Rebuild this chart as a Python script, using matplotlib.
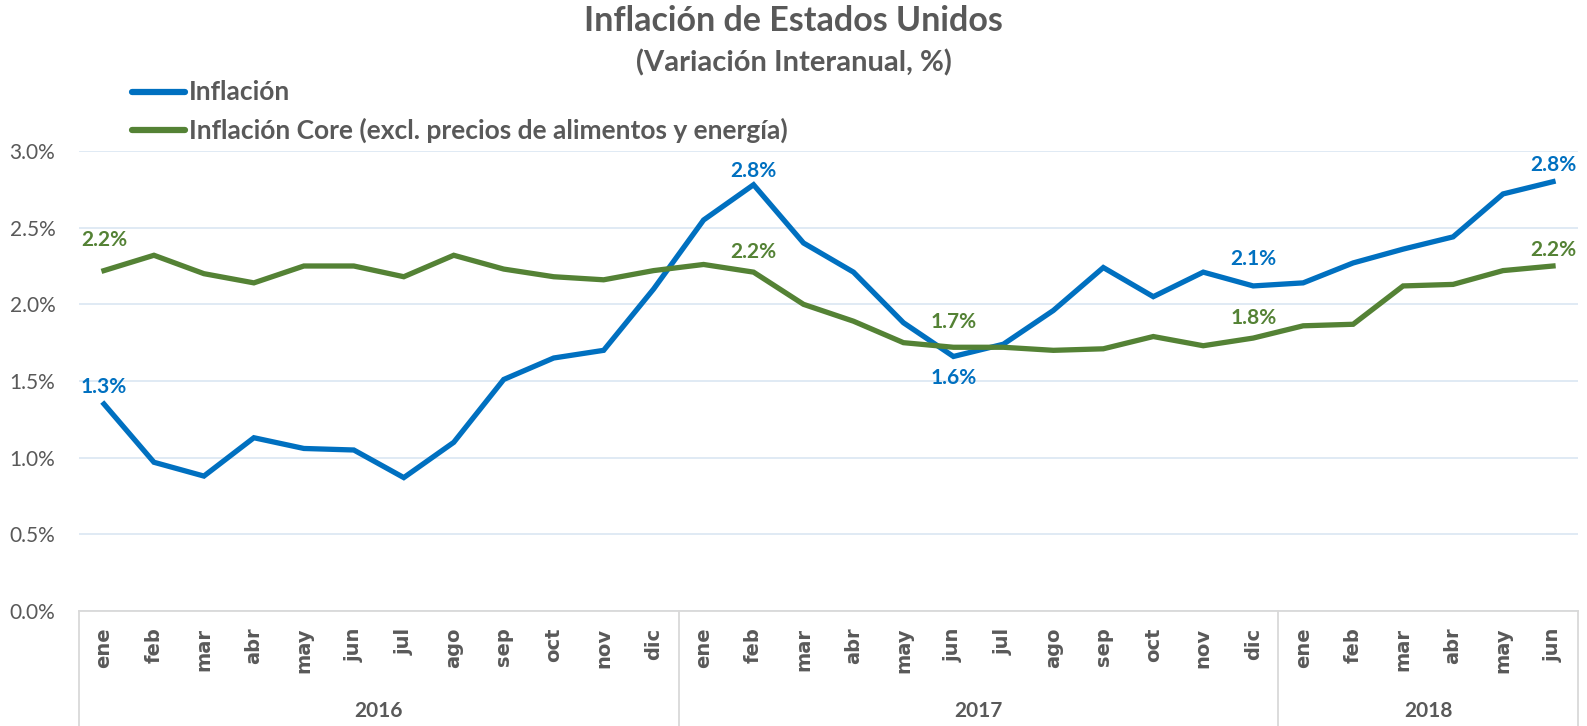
import matplotlib
matplotlib.use("Agg")
import matplotlib.pyplot as plt
from matplotlib.lines import Line2D
import matplotlib.transforms as mtransforms

plt.rcParams['font.family'] = ['Lato', 'DejaVu Sans']

years = ["2016", "2017", "2018"]
months_per_year = [12, 12, 6]
month_names = ["ene", "feb", "mar", "abr", "may", "jun", "jul", "ago", "sep", "oct", "nov", "dic"]
month_labels = (month_names + month_names + month_names[:6])

inflacion = [1.35, 0.97, 0.88, 1.13, 1.06, 1.05, 0.87, 1.10, 1.51, 1.65, 1.70, 2.10,
             2.55, 2.78, 2.40, 2.21, 1.88, 1.66, 1.74, 1.96, 2.24, 2.05, 2.21, 2.12,
             2.14, 2.27, 2.36, 2.44, 2.72, 2.80]
core = [2.22, 2.32, 2.20, 2.14, 2.25, 2.25, 2.18, 2.32, 2.23, 2.18, 2.16, 2.22,
        2.26, 2.21, 2.00, 1.89, 1.75, 1.72, 1.72, 1.70, 1.71, 1.79, 1.73, 1.78,
        1.86, 1.87, 2.12, 2.13, 2.22, 2.25]

# labelled points: (index, text)
labels_inf = [(0, "1.3%"), (13, "2.8%"), (17, "1.6%"), (23, "2.1%"), (29, "2.8%")]
labels_core = [(0, "2.2%"), (13, "2.2%"), (17, "1.7%"), (23, "1.8%"), (29, "2.2%")]

series_names = ["Inflación", "Inflación Core (excl. precios de alimentos y energía)"]

BLUE = "#0070C0"
GREEN = "#548235"
GRAY = "#595959"
GRID = "#DDE8F3"
AXIS = "#D9D9D9"

W, H = 1587, 726
fig = plt.figure(figsize=(W / 100, H / 100), dpi=100)
ax = fig.add_axes([79 / W, (H - 611) / H, (1578 - 79) / W, (611 - 151) / H])

x = list(range(len(inflacion)))
l1, = ax.plot(x, inflacion, color=BLUE, lw=3.8, solid_joinstyle='miter', label=series_names[0])
l2, = ax.plot(x, core, color=GREEN, lw=3.8, solid_joinstyle='miter', label=series_names[1])

ax.set_xlim(-0.5, len(x) - 0.5)
ax.set_ylim(0, 3.0)
yt = [0, 0.5, 1.0, 1.5, 2.0, 2.5, 3.0]
ax.set_yticks(yt)
ax.set_yticklabels([f"{v:.1f}%" for v in yt])
ax.tick_params(axis='y', length=0, labelsize=15, labelcolor=GRAY, pad=50)
for t in ax.get_yticklabels():
    t.set_horizontalalignment('left')

ax.set_xticks(x)
ax.set_xticklabels(month_labels, rotation=90, fontweight='bold', fontsize=14, color=GRAY,
                   family='DejaVu Sans')
ax.tick_params(axis='x', length=0, pad=12)

ax.grid(axis='y', color=GRID, lw=1.3)
ax.set_axisbelow(True)
for s in ['left', 'right', 'top']:
    ax.spines[s].set_visible(False)
ax.spines['bottom'].set_color(AXIS)
ax.spines['bottom'].set_linewidth(1.3)

# year separators and labels
trans = mtransforms.blended_transform_factory(ax.transData, ax.transAxes)
ybot = -(H - 611) / (611 - 151)
bounds = [-0.5]
acc = -0.5
for n in months_per_year:
    acc += n
    bounds.append(acc)
for b in bounds:
    ax.add_line(Line2D([b, b], [0, ybot], transform=trans, color=AXIS, lw=1.3, clip_on=False))
yl = -(711 - 611) / (611 - 151)
for i, yr in enumerate(years):
    cx = (bounds[i] + bounds[i + 1]) / 2
    ax.text(cx, yl, yr, transform=trans, ha='center', va='center', fontsize=15,
            fontweight='bold', color=GRAY)

# data labels
def lab(series, items, color, offsets):
    for (i, txt), dy in zip(items, offsets):
        ax.annotate(txt, (i, series[i]), xytext=(0, dy), textcoords='offset pixels',
                    ha='center', va='center', fontsize=15, fontweight='bold', color=color)

lab(inflacion, labels_inf, BLUE, [17, 14, -22, 27, 17])
lab(core, labels_core, GREEN, [31, 20, 25, 20, 16])

# title
fig.text(0.5, 1 - 21 / H, "Inflación de Estados Unidos", ha='center', va='center',
         fontsize=24.5, fontweight='bold', color=GRAY)
fig.text(0.5, 1 - 63 / H, "(Variación Interanual, %)", ha='center', va='center',
         fontsize=21, fontweight='bold', color=GRAY)

# legend (drawn manually to match placement)
for k, (line, name) in enumerate(zip([l1, l2], series_names)):
    yc = 1 - (92 + 38 * k) / H
    fig.add_artist(Line2D([132 / W, 185 / W], [yc, yc], transform=fig.transFigure,
                          color=line.get_color(), lw=4.5, solid_capstyle='round'))
    fig.text(189 / W, yc, name, ha='left', va='center', fontsize=19,
             fontweight='bold', color=GRAY)

fig.savefig("out.png", dpi=100)
